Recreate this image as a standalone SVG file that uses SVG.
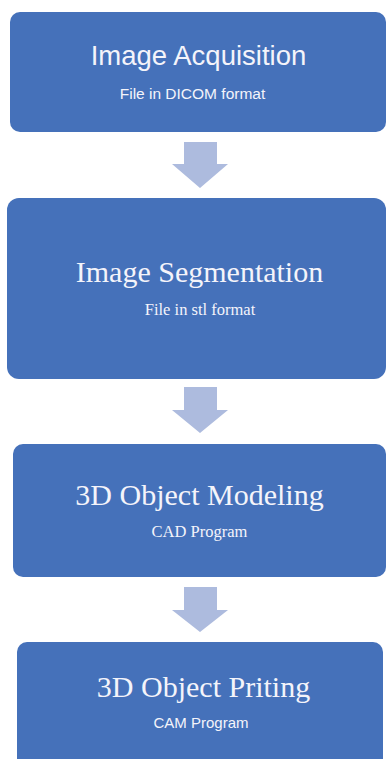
<svg xmlns="http://www.w3.org/2000/svg" width="387" height="759" viewBox="0 0 387 759">
<style>
.box{fill:#4571BA;}
.arr{fill:#ADBBDE;}
.sans{font-family:"Liberation Sans",Arial,sans-serif;fill:#F4F4FA;text-anchor:middle;}
.serif{font-family:"Liberation Serif","Times New Roman",serif;fill:#F4F4FA;text-anchor:middle;}
</style>
<rect width="387" height="759" fill="#FFFFFF"/>
<g id="connectors">
<path class="arr" d="M184,142 H217 V164 H228 L200,188 L172,164 H184 Z"/>
<path class="arr" d="M184,387 H217 V410 H228 L200,433 L172,410 H184 Z"/>
<path class="arr" d="M184,587 H217 V610 H228 L200,632 L172,610 H184 Z"/>
</g>
<g id="node1">
<rect class="box" x="10" y="12" width="376" height="120" rx="10"/>
<text class="sans" x="198.5" y="65" font-size="27.5">Image Acquisition</text>
<text class="sans" x="192.5" y="99" font-size="15.5">File in DICOM format</text>
</g>
<g id="node2">
<rect class="box" x="7" y="198" width="379" height="181" rx="12"/>
<text class="serif" x="199.5" y="282" font-size="30">Image Segmentation</text>
<text class="serif" x="200" y="315" font-size="16.5">File in stl format</text>
</g>
<g id="node3">
<rect class="box" x="13" y="444" width="373" height="133" rx="10"/>
<text class="serif" x="199.5" y="505" font-size="30">3D Object Modeling</text>
<text class="serif" x="199.5" y="537" font-size="16.5">CAD Program</text>
</g>
<g id="node4">
<rect class="box" x="17" y="642" width="366" height="130" rx="10"/>
<text class="serif" x="203.5" y="697" font-size="30">3D Object Priting</text>
<text class="sans" x="201" y="728" font-size="15">CAM Program</text>
</g>
</svg>
